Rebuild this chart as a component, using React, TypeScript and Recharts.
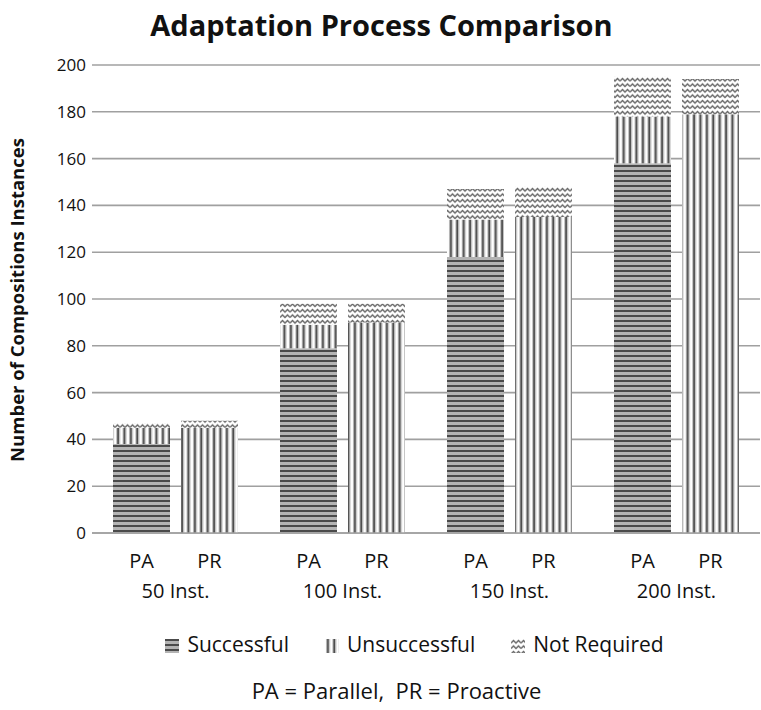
import { Bar, BarChart, CartesianGrid, XAxis, YAxis } from 'recharts';

// instance groups on the x axis
const groups = ['50 Inst.', '100 Inst.', '150 Inst.', '200 Inst.'];

// PA = Parallel
const paSuccessful = [38, 79, 118, 158];
const paUnsuccessful = [7, 10, 16, 20];
const paNotRequired = [2, 9, 13, 17];

// PR = Proactive
const prSuccessful = [0, 0, 0, 0];
const prUnsuccessful = [45, 90, 135, 179];
const prNotRequired = [3, 8, 13, 15];

const yTicks = [0, 20, 40, 60, 80, 100, 120, 140, 160, 180, 200];

const FONT = '"Open Sans", Lato, sans-serif';

const data = groups.map((g, i) => ({
  group: g,
  paS: paSuccessful[i],
  paU: paUnsuccessful[i],
  paN: paNotRequired[i],
  prS: prSuccessful[i],
  prU: prUnsuccessful[i],
  prN: prNotRequired[i],
}));

function GroupTick({ x, y, payload }: any) {
  return (
    <g fontFamily={FONT} fontSize={20} fill="#111" textAnchor="middle">
      <text x={x - 34} y={y + 27}>PA</text>
      <text x={x + 34} y={y + 27}>PR</text>
      <text x={x} y={y + 57}>{payload.value}</text>
    </g>
  );
}

function LegendIcon({ kind }: { kind: string }) {
  return (
    <svg width={14} height={14} style={{ marginRight: 8, verticalAlign: -1 }}>
      <rect width={14} height={14} fill={kind === 'n' ? '#fff' : '#ccc'} />
      <rect width={14} height={14} fill={`url(#pat-${kind})`} />
    </svg>
  );
}

export default function App() {
  return (
    <div style={{ position: 'absolute', left: 0, top: 0, width: 761, height: 710, background: '#fff' }}>
      <div
        style={{
          position: 'absolute',
          top: 5,
          width: 761,
          paddingLeft: 2,
          boxSizing: 'border-box',
          textAlign: 'center',
          fontFamily: FONT,
          fontWeight: 700,
          fontSize: 29,
          color: '#111',
        }}
      >
        Adaptation Process Comparison
      </div>
      <div
        style={{
          position: 'absolute',
          left: 17 - 200,
          top: 300 - 13,
          width: 400,
          height: 26,
          lineHeight: '26px',
          transform: 'rotate(-90deg)',
          textAlign: 'center',
          fontFamily: FONT,
          fontWeight: 700,
          fontSize: 18.5,
          color: '#111',
          zIndex: 2,
        }}
      >
        Number of Compositions Instances
      </div>
      <div style={{ position: 'absolute', left: 0, top: 0 }}>
        <BarChart
          width={761}
          height={610}
          data={data}
          margin={{ top: 65, right: 1, left: 0, bottom: 7 }}
          barGap={11}
          barCategoryGap={21}
        >
          <defs>
            <pattern id="pat-s" width={6} height={5} patternUnits="userSpaceOnUse">
              <rect width={6} height={5} fill="#b4b4b4" />
              <rect y={0} width={6} height={2} fill="#4a4a4a" />
            </pattern>
            <pattern id="pat-u" width={6.4} height={6} patternUnits="userSpaceOnUse">
              <rect width={6.4} height={6} fill="#fff" />
              <rect x={1} width={1} height={6} fill="#bbb" />
              <rect x={2} width={2} height={6} fill="#4a4a4a" />
              <rect x={4} width={1} height={6} fill="#bbb" />
            </pattern>
            <pattern id="pat-n" width={10} height={5.5} patternUnits="userSpaceOnUse">
              <rect width={10} height={5.5} fill="#fff" />
              <path d="M0 4 L2.5 1.5 L5 4 L7.5 1.5 L10 4" fill="none" stroke="#6a6a6a" strokeWidth={1.4} />
            </pattern>
          </defs>
          <CartesianGrid vertical={false} stroke="#a0a0a0" strokeWidth={1.6} />
          <XAxis
            dataKey="group"
            height={70}
            tickLine={false}
            axisLine={{ stroke: '#a0a0a0', strokeWidth: 1.6 }}
            tick={<GroupTick />}
            interval={0}
          />
          <YAxis
            width={92}
            domain={[0, 200]}
            ticks={yTicks}
            axisLine={false}
            tickLine={false}
            tickMargin={0}
            tick={{ fontFamily: FONT, fontSize: 17, fill: '#111' }}
          />
          <Bar dataKey="paS" stackId="pa" fill="url(#pat-s)" isAnimationActive={false} />
          <Bar dataKey="paU" stackId="pa" fill="url(#pat-u)" isAnimationActive={false} />
          <Bar dataKey="paN" stackId="pa" fill="url(#pat-n)" isAnimationActive={false} />
          <Bar dataKey="prS" stackId="pr" fill="url(#pat-s)" isAnimationActive={false} />
          <Bar dataKey="prU" stackId="pr" fill="url(#pat-u)" isAnimationActive={false} />
          <Bar dataKey="prN" stackId="pr" fill="url(#pat-n)" isAnimationActive={false} />
        </BarChart>
      </div>
      <div
        style={{
          position: 'absolute',
          top: 630,
          left: 0,
          width: 761,
          display: 'flex',
          justifyContent: 'center',
          gap: 36,
          fontFamily: FONT,
          fontSize: 21,
          color: '#111',
          paddingLeft: 68,
          boxSizing: 'border-box',
        }}
      >
        <span><LegendIcon kind="s" />Successful</span>
        <span><LegendIcon kind="u" />Unsuccessful</span>
        <span><LegendIcon kind="n" />Not Required</span>
      </div>
      <div
        style={{
          position: 'absolute',
          top: 675,
          left: 0,
          width: 761,
          textAlign: 'center',
          fontFamily: FONT,
          fontSize: 22,
          color: '#111',
          paddingLeft: 32,
          boxSizing: 'border-box',
        }}
      >
        PA = Parallel,&nbsp; PR = Proactive
      </div>
    </div>
  );
}
